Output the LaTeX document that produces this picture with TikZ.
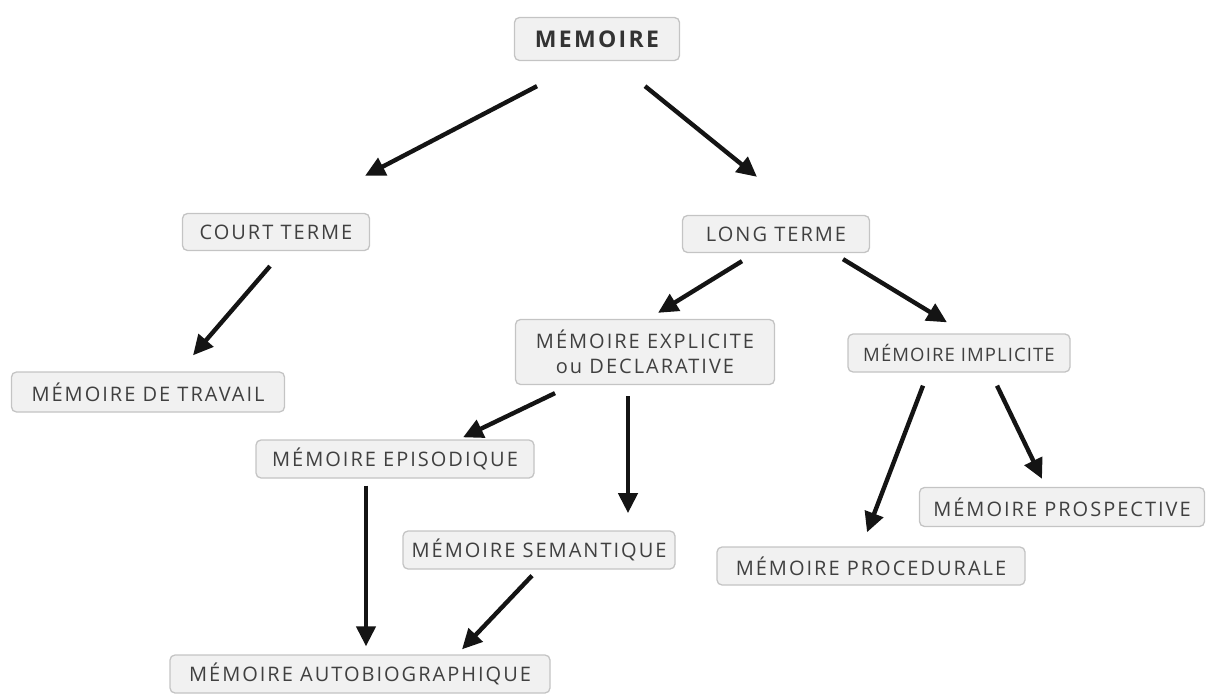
\documentclass[tikz,border=0pt]{standalone}
\usepackage{fontspec}
\usetikzlibrary{arrows.meta,calc}
\newfontfamily\labfont[LetterSpace=10]{Open Sans}
\newfontfamily\labfontn[LetterSpace=6]{Open Sans}
\definecolor{boxfill}{HTML}{F1F1F1}
\definecolor{boxline}{HTML}{C4C4C4}
\definecolor{txt}{HTML}{404040}
\begin{document}
\begin{tikzpicture}[x=1pt,y=-1pt,
  box/.style={draw=boxline,line width=1.3pt,fill=boxfill,rounded corners=5pt,
    inner sep=0pt,text=txt,font=\labfont\fontsize{20}{23}\selectfont,align=center},
  arr/.style={line width=4.4pt,draw=black!92,-{Triangle[length=20pt,width=19pt]}}]
\useasboundingbox (0,0) rectangle (1213,695);
\node[box,minimum width=165,minimum height=43,font=\labfont\bfseries\fontsize{23}{26}\selectfont,text=black!80] (mem) at (597,39) {MEMOIRE};
\node[box,minimum width=187,minimum height=37] (ct) at (276,232) {COURT TERME};
\node[box,minimum width=187,minimum height=37] (lt) at (776,234) {LONG TERME};
\node[box,minimum width=259,minimum height=65,font=\labfont\fontsize{20}{25}\selectfont] (expl) at (645,352) {MÉMOIRE EXPLICITE\\ou DECLARATIVE};
\node[box,minimum width=222,minimum height=38,font=\labfontn\fontsize{18.5}{22}\selectfont] (impl) at (959,353) {MÉMOIRE IMPLICITE};
\node[box,minimum width=273,minimum height=40] (trav) at (148,392) {MÉMOIRE DE TRAVAIL};
\node[box,minimum width=278,minimum height=38] (epi) at (395,459) {MÉMOIRE EPISODIQUE};
\node[box,minimum width=272,minimum height=38] (sem) at (539,550) {MÉMOIRE SEMANTIQUE};
\node[box,minimum width=285,minimum height=39] (pros) at (1062,507) {MÉMOIRE PROSPECTIVE};
\node[box,minimum width=308,minimum height=38] (proc) at (871,566) {MÉMOIRE PROCEDURALE};
\node[box,minimum width=380,minimum height=38] (auto) at (360,674) {MÉMOIRE AUTOBIOGRAPHIQUE};
% arrows
\draw[arr] ($(mem.south)+(-60,25)$) -- ($(ct.north)+(89,-37)$);
\draw[arr] ($(mem.south)+(48,25)$) -- ($(lt.north)+(-19,-38)$);
\draw[arr] ($(ct.south)+(-6,15)$) -- ($(trav.north)+(45,-16)$);
\draw[arr] ($(lt.south)+(-34,8)$) -- ($(expl.north)+(13,-6)$);
\draw[arr] ($(lt.south)+(67,6)$) -- ($(impl.north)+(-12,-11)$);
\draw[arr] ($(expl.south)+(-90,8)$) -- ($(epi.north)+(68,-2)$);
\draw[arr] ($(expl.south)+(-17,11)$) -- ($(expl.south)+(-17,128)$);
\draw[arr] ($(impl.south)+(-36,13)$) -- ($(proc.north)+(-4,-14)$);
\draw[arr] ($(impl.south)+(38,13)$) -- ($(pros.north)+(-20,-8)$);
\draw[arr] ($(epi.south)+(-29,7)$) -- ($(auto.north)+(6,-8)$);
\draw[arr] ($(sem.south)+(-7,6)$) -- ($(auto.north)+(102,-5)$);
\end{tikzpicture}
\end{document}
